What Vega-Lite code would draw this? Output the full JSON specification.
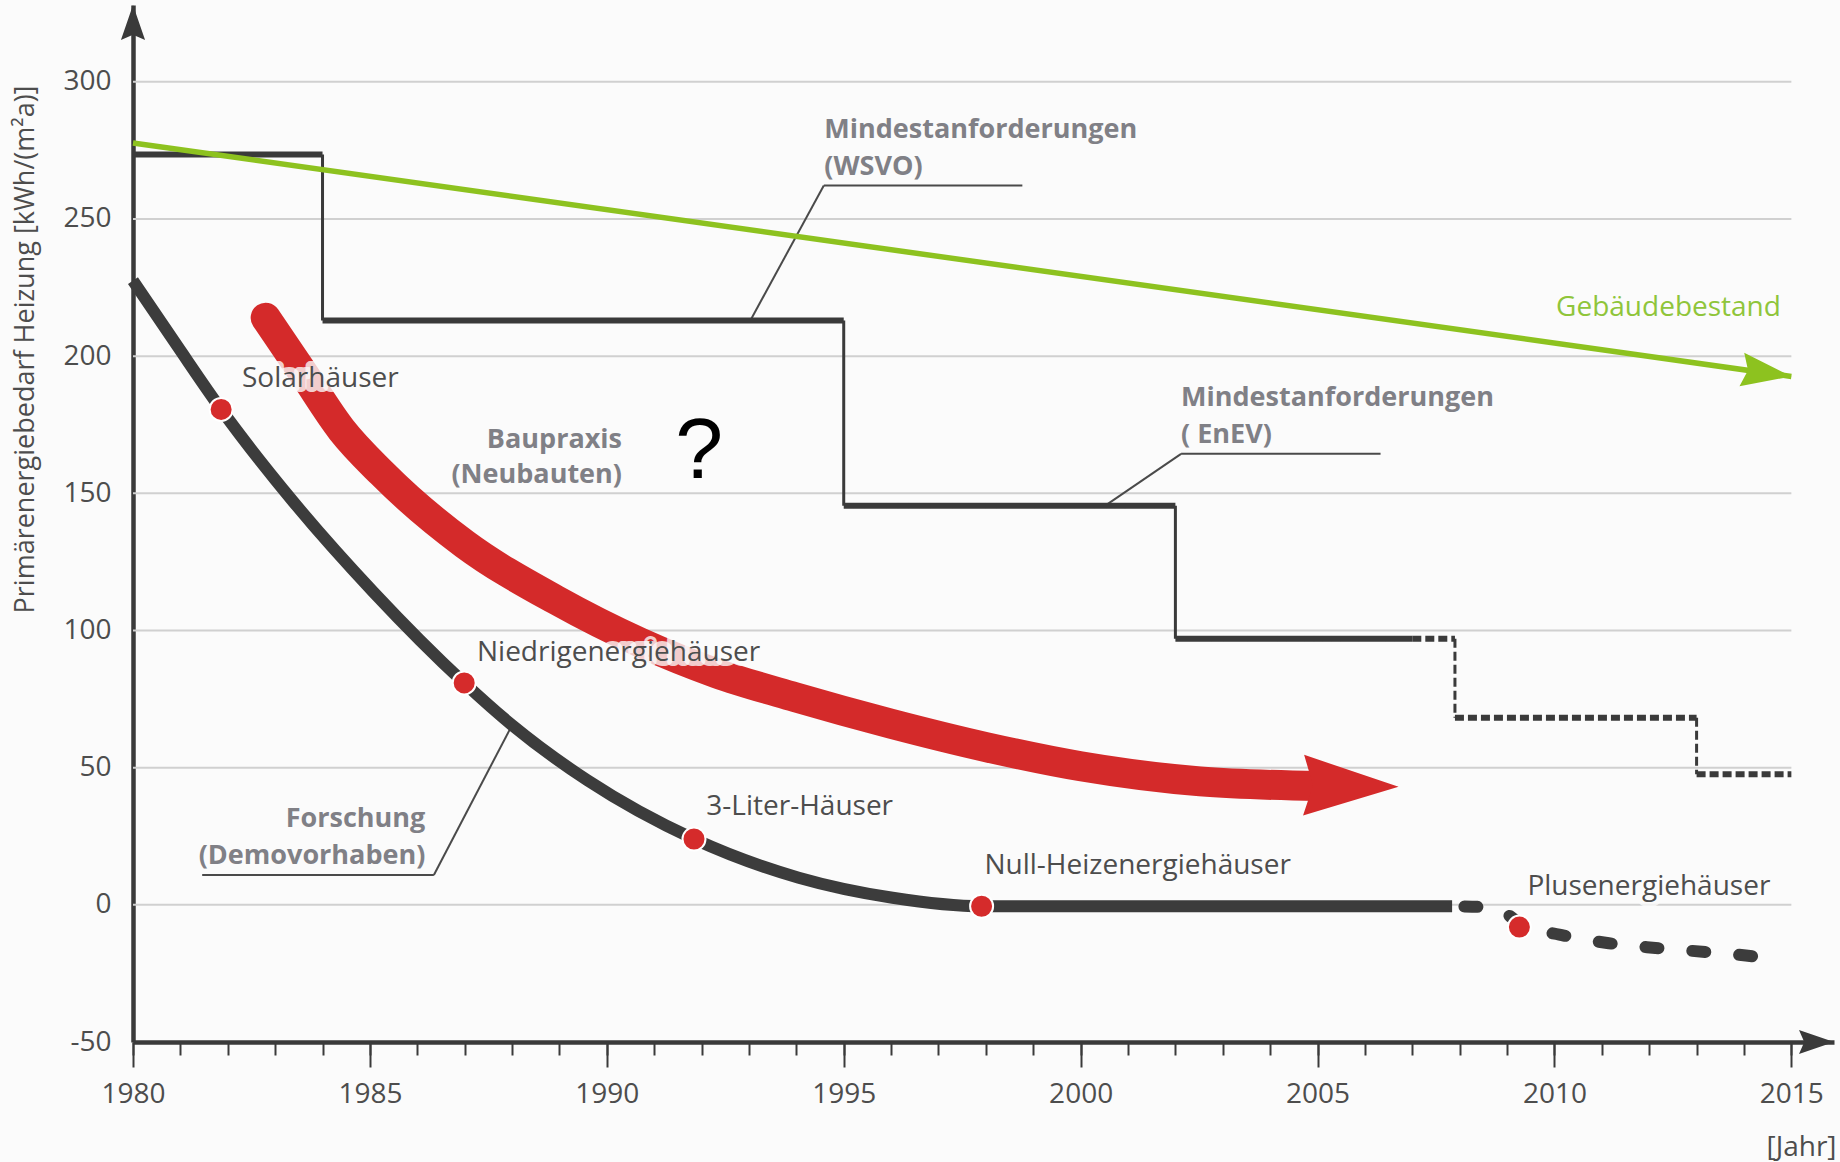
{
  "$schema": "https://vega.github.io/schema/vega-lite/v6.json",
  "width": 1701,
  "height": 1037,
  "autosize": {"type": "none"},
  "padding": {"left": 133, "top": 5, "right": 6, "bottom": 120},
  "background": "#fbfbfb",
  "config": {"view": {"stroke": null}, "font": "Open Sans"},
  "resolve": {"axis": {"x": "independent", "y": "independent"}},
  "datasets": {
    "raster": [{"wert": 0}, {"wert": 50}, {"wert": 100}, {"wert": 150}, {"wert": 200}, {"wert": 250}, {"wert": 300}],
    "mindestanforderungen": [
      {"von": 1980, "bis": 1984, "wert_von": 273.5, "wert_bis": 273.5, "richtung": "horizontal", "status": "in Kraft"},
      {"von": 1984, "bis": 1984, "wert_von": 273.5, "wert_bis": 213, "richtung": "vertikal", "status": "in Kraft"},
      {"von": 1984, "bis": 1995, "wert_von": 213, "wert_bis": 213, "richtung": "horizontal", "status": "in Kraft"},
      {"von": 1995, "bis": 1995, "wert_von": 213, "wert_bis": 145.5, "richtung": "vertikal", "status": "in Kraft"},
      {"von": 1995, "bis": 2002, "wert_von": 145.5, "wert_bis": 145.5, "richtung": "horizontal", "status": "in Kraft"},
      {"von": 2002, "bis": 2002, "wert_von": 145.5, "wert_bis": 97, "richtung": "vertikal", "status": "in Kraft"},
      {"von": 2002, "bis": 2007, "wert_von": 97, "wert_bis": 97, "richtung": "horizontal", "status": "in Kraft"},
      {"von": 2007, "bis": 2007.9, "wert_von": 97, "wert_bis": 97, "richtung": "horizontal", "status": "geplant"},
      {"von": 2007.9, "bis": 2007.9, "wert_von": 97, "wert_bis": 68.2, "richtung": "vertikal", "status": "geplant"},
      {"von": 2007.9, "bis": 2013, "wert_von": 68.2, "wert_bis": 68.2, "richtung": "horizontal", "status": "geplant"},
      {"von": 2013, "bis": 2013, "wert_von": 68.2, "wert_bis": 47.6, "richtung": "vertikal", "status": "geplant"},
      {"von": 2013, "bis": 2015, "wert_von": 47.6, "wert_bis": 47.6, "richtung": "horizontal", "status": "geplant"}
    ],
    "hinweislinien": [
      {"bezug": "WSVO", "von": 1994.58, "bis": 1998.77, "wert_von": 262.2, "wert_bis": 262.2},
      {"bezug": "WSVO", "von": 1994.58, "bis": 1993.03, "wert_von": 262.2, "wert_bis": 213},
      {"bezug": "EnEV", "von": 2002.12, "bis": 2006.33, "wert_von": 164.4, "wert_bis": 164.4},
      {"bezug": "EnEV", "von": 2002.12, "bis": 2000.52, "wert_von": 164.4, "wert_bis": 145.5},
      {"bezug": "Forschung", "von": 1981.46, "bis": 1986.35, "wert_von": 10.9, "wert_bis": 10.9},
      {"bezug": "Forschung", "von": 1986.35, "bis": 1988.0, "wert_von": 10.9, "wert_bis": 65.5}
    ],
    "gebaeudebestand": [
      {"jahr": 1980, "wert": 277.7},
      {"jahr": 2015, "wert": 192.6}
    ],
    "baupraxis": [
      {"jahr": 1982.8, "wert": 214.0},
      {"jahr": 1983.6, "wert": 193.6},
      {"jahr": 1984.4, "wert": 173.2},
      {"jahr": 1985.25, "wert": 157.4},
      {"jahr": 1987.0, "wert": 131.5},
      {"jahr": 1988.92, "wert": 111.2},
      {"jahr": 1990.71, "wert": 95.6},
      {"jahr": 1992.3, "wert": 84.5},
      {"jahr": 1993.97, "wert": 75.7},
      {"jahr": 1996.0, "wert": 66.0},
      {"jahr": 1998.0, "wert": 57.5},
      {"jahr": 2000.0, "wert": 50.5},
      {"jahr": 2002.52, "wert": 45.0},
      {"jahr": 2005.0, "wert": 43.3}
    ],
    "forschung": [
      {"jahr": 1980, "wert": 227.5, "abschnitt": "realisiert"},
      {"jahr": 1980.92, "wert": 204.1, "abschnitt": "realisiert"},
      {"jahr": 1981.86, "wert": 180.6, "abschnitt": "realisiert"},
      {"jahr": 1983.39, "wert": 146.8, "abschnitt": "realisiert"},
      {"jahr": 1985.08, "wert": 113.9, "abschnitt": "realisiert"},
      {"jahr": 1986.99, "wert": 80.9, "abschnitt": "realisiert"},
      {"jahr": 1988.0, "wert": 65.5, "abschnitt": "realisiert"},
      {"jahr": 1989.59, "wert": 45.4, "abschnitt": "realisiert"},
      {"jahr": 1991.84, "wert": 24.0, "abschnitt": "realisiert"},
      {"jahr": 1994.05, "wert": 9.9, "abschnitt": "realisiert"},
      {"jahr": 1996.03, "wert": 2.6, "abschnitt": "realisiert"},
      {"jahr": 1997.91, "wert": -0.5, "abschnitt": "realisiert"},
      {"jahr": 2007.84, "wert": -0.5, "abschnitt": "realisiert"},
      {"jahr": 2008.1, "wert": -0.6, "abschnitt": "Ausblick"},
      {"jahr": 2008.6, "wert": -0.9, "abschnitt": "Ausblick"},
      {"jahr": 2009.0, "wert": -3.5, "abschnitt": "Ausblick"},
      {"jahr": 2009.3, "wert": -7.0, "abschnitt": "Ausblick"},
      {"jahr": 2010.2, "wert": -11.2, "abschnitt": "Ausblick"},
      {"jahr": 2011.15, "wert": -14.0, "abschnitt": "Ausblick"},
      {"jahr": 2012.2, "wert": -15.8, "abschnitt": "Ausblick"},
      {"jahr": 2013.2, "wert": -17.2, "abschnitt": "Ausblick"},
      {"jahr": 2014.2, "wert": -18.8, "abschnitt": "Ausblick"},
      {"jahr": 2014.5, "wert": -19.5, "abschnitt": "Ausblick"}
    ],
    "meilensteine": [
      {"haustyp": "Solarhäuser", "jahr": 1981.86, "wert": 180.6},
      {"haustyp": "Niedrigenergiehäuser", "jahr": 1986.99, "wert": 80.9},
      {"haustyp": "3-Liter-Häuser", "jahr": 1991.84, "wert": 24.0},
      {"haustyp": "Null-Heizenergiehäuser", "jahr": 1997.91, "wert": -0.5},
      {"haustyp": "Plusenergiehäuser", "jahr": 2009.26, "wert": -8.1}
    ],
    "beschriftung": [
      {"text": "Solarhäuser", "jahr": 1982.3, "wert": 188.7, "rolle": "Haustyp"},
      {"text": "Niedrigenergiehäuser", "jahr": 1987.26, "wert": 88.7, "rolle": "Haustyp"},
      {"text": "3-Liter-Häuser", "jahr": 1992.1, "wert": 32.7, "rolle": "Haustyp"},
      {"text": "Null-Heizenergiehäuser", "jahr": 1997.97, "wert": 11.4, "rolle": "Haustyp"},
      {"text": "Plusenergiehäuser", "jahr": 2009.43, "wert": 3.6, "rolle": "Haustyp"},
      {"text": "Mindestanforderungen", "jahr": 1994.59, "wert": 279.5, "rolle": "Regelwerk"},
      {"text": "(WSVO)", "jahr": 1994.59, "wert": 266.1, "rolle": "Regelwerk"},
      {"text": "Mindestanforderungen", "jahr": 2002.12, "wert": 181.7, "rolle": "Regelwerk"},
      {"text": "( EnEV)", "jahr": 2002.12, "wert": 168.3, "rolle": "Regelwerk"},
      {"text": "Baupraxis", "jahr": 1990.32, "wert": 166.5, "rolle": "Praxis"},
      {"text": "(Neubauten)", "jahr": 1990.32, "wert": 153.7, "rolle": "Praxis"},
      {"text": "Forschung", "jahr": 1986.17, "wert": 28.2, "rolle": "Praxis"},
      {"text": "(Demovorhaben)", "jahr": 1986.17, "wert": 14.8, "rolle": "Praxis"},
      {"text": "Gebäudebestand", "jahr": 2014.78, "wert": 214.5, "rolle": "Bestand"},
      {"text": "?", "jahr": 1991.95, "wert": 155.7, "rolle": "Frage"}
    ],
    "pfeilspitzen": [
      {"pfeil": "Gebäudebestand", "jahr": 2015, "wert": 192.6},
      {"pfeil": "Baupraxis", "jahr": 2006.71, "wert": 43.0},
      {"pfeil": "y-Achse", "jahr": 1980, "wert": 328},
      {"pfeil": "x-Achse", "jahr": 2015.9, "wert": -50}
    ]
  },
  "layer": [
    {
      "data": {"name": "raster"},
      "mark": {"type": "rule", "color": "#d0d0d0", "strokeWidth": 2},
      "encoding": {
        "y": {"field": "wert", "type": "quantitative", "axis": null},
        "x": {"datum": 1980, "type": "quantitative", "axis": null},
        "x2": {"datum": 2015}
      }
    },
    {
      "data": {"name": "hinweislinien"},
      "mark": {"type": "rule", "color": "#4a4a4a", "strokeWidth": 2},
      "encoding": {
        "x": {"field": "von", "type": "quantitative", "axis": null},
        "x2": {"field": "bis"},
        "y": {"field": "wert_von", "type": "quantitative", "axis": null},
        "y2": {"field": "wert_bis"}
      }
    },
    {
      "data": {"name": "mindestanforderungen"},
      "mark": {"type": "rule", "color": "#3a3a3a", "strokeCap": "butt"},
      "encoding": {
        "x": {
          "field": "von", "type": "quantitative",
          "scale": {"domain": [1980, 2015.9], "nice": false, "zero": false},
          "axis": {
            "orient": "bottom",
            "title": null,
            "values": [1980, 1981, 1982, 1983, 1984, 1985, 1986, 1987, 1988, 1989, 1990, 1991, 1992, 1993, 1994, 1995, 1996, 1997, 1998, 1999, 2000, 2001, 2002, 2003, 2004, 2005, 2006, 2007, 2008, 2009, 2010, 2011, 2012, 2013, 2014, 2015],
            "labels": false,
            "tickSize": 13,
            "tickWidth": 2,
            "tickColor": "#3a3a3a",
            "domainColor": "#3a3a3a",
            "domainWidth": 4.5,
            "grid": false
          }
        },
        "x2": {"field": "bis"},
        "y": {
          "field": "wert_von", "type": "quantitative",
          "scale": {"domain": [-50, 328], "nice": false, "zero": false},
          "axis": {
            "orient": "left",
            "title": "Primärenergiebedarf Heizung [kWh/(m²a)]",
            "values": [-50, 0, 50, 100, 150, 200, 250, 300],
            "labelExpr": "replace(datum.label, '\u2212', '-')",
            "ticks": false,
            "tickSize": 0,
            "labelPadding": 22,
            "labelFont": "Open Sans",
            "labelFontSize": 28,
            "labelColor": "#4d4d4d",
            "domainColor": "#3a3a3a",
            "domainWidth": 4.5,
            "grid": false,
            "titleFont": "Open Sans",
            "titleFontSize": 27,
            "titleFontWeight": "normal",
            "titleColor": "#4d4d4d",
            "titleAngle": 270,
            "titleX": -100,
            "titleY": 344,
            "titleAlign": "center",
            "titleBaseline": "alphabetic"
          }
        },
        "y2": {"field": "wert_bis"},
        "strokeWidth": {"field": "richtung", "type": "ordinal", "scale": {"domain": ["horizontal", "vertikal"], "range": [6, 3]}, "legend": null},
        "strokeDash": {"field": "status", "type": "nominal", "scale": {"domain": ["in Kraft", "geplant"], "range": [[1, 0], [9, 4]]}, "legend": null}
      }
    },
    {
      "data": {"name": "gebaeudebestand"},
      "mark": {"type": "line", "color": "#8dc21f", "strokeWidth": 5.5, "strokeCap": "butt"},
      "encoding": {
        "x": {"field": "jahr", "type": "quantitative", "axis": null},
        "y": {"field": "wert", "type": "quantitative", "axis": null}
      }
    },
    {
      "data": {"name": "pfeilspitzen"},
      "transform": [{"filter": "datum.pfeil === 'Gebäudebestand'"}],
      "mark": {"type": "point", "shape": "M0,0 L-2,-0.68 L-1.75,0 L-2,0.68 Z", "size": 2500, "angle": 8, "filled": true, "color": "#8dc21f", "opacity": 1},
      "encoding": {
        "x": {"field": "jahr", "type": "quantitative", "axis": null},
        "y": {"field": "wert", "type": "quantitative", "axis": null}
      }
    },
    {
      "data": {"name": "baupraxis"},
      "mark": {"type": "line", "color": "#d42a2a", "strokeWidth": 30, "interpolate": "monotone", "strokeCap": "round"},
      "encoding": {
        "x": {"field": "jahr", "type": "quantitative", "axis": null},
        "y": {"field": "wert", "type": "quantitative", "axis": null}
      }
    },
    {
      "data": {"name": "pfeilspitzen"},
      "transform": [{"filter": "datum.pfeil === 'Baupraxis'"}],
      "mark": {"type": "point", "shape": "M0,0 L-2,-0.64 L-1.8,0 L-2,0.64 Z", "size": 9025, "angle": 1, "filled": true, "color": "#d42a2a", "opacity": 1},
      "encoding": {
        "x": {"field": "jahr", "type": "quantitative", "axis": null},
        "y": {"field": "wert", "type": "quantitative", "axis": null}
      }
    },
    {
      "data": {"name": "forschung"},
      "transform": [{"filter": "datum.abschnitt === 'realisiert'"}],
      "mark": {"type": "line", "color": "#3c3c3c", "strokeWidth": 12, "interpolate": "monotone", "strokeCap": "butt"},
      "encoding": {
        "x": {"field": "jahr", "type": "quantitative", "axis": null},
        "y": {"field": "wert", "type": "quantitative", "axis": null}
      }
    },
    {
      "data": {"name": "forschung"},
      "transform": [{"filter": "datum.abschnitt === 'Ausblick'"}],
      "mark": {"type": "line", "color": "#3c3c3c", "strokeWidth": 12, "interpolate": "monotone", "strokeCap": "round", "strokeDash": [13, 34]},
      "encoding": {
        "x": {"field": "jahr", "type": "quantitative", "axis": null},
        "y": {"field": "wert", "type": "quantitative", "axis": null}
      }
    },
    {
      "data": {"name": "meilensteine"},
      "mark": {"type": "circle", "size": 529, "color": "#d52b2b", "opacity": 1, "stroke": "#ffffff", "strokeWidth": 2},
      "encoding": {
        "x": {
          "field": "jahr", "type": "quantitative",
          "axis": {
            "orient": "bottom",
            "values": [1980, 1985, 1990, 1995, 2000, 2005, 2010, 2015],
            "format": "d",
            "domain": false,
            "grid": false,
            "tickSize": 25,
            "tickWidth": 2,
            "tickColor": "#3a3a3a",
            "labelFlush": false,
            "labelOverlap": false,
            "labelFont": "Open Sans",
            "labelFontSize": 28,
            "labelColor": "#4d4d4d",
            "labelPadding": 13,
            "title": "[Jahr]",
            "titleFont": "Open Sans",
            "titleFontSize": 28,
            "titleFontWeight": "normal",
            "titleColor": "#4d4d4d",
            "titleX": 1703,
            "titleY": 105,
            "titleAlign": "right",
            "titleBaseline": "middle",
            "titleAnchor": "end"
          }
        },
        "y": {"field": "wert", "type": "quantitative", "axis": null}
      }
    },
    {
      "data": {"name": "beschriftung"},
      "transform": [{"filter": "datum.rolle === 'Haustyp'"}],
      "mark": {"type": "text", "align": "left", "baseline": "alphabetic", "font": "Open Sans", "fontSize": 28, "fill": "#fbfbfb", "stroke": "#fbfbfb", "strokeWidth": 10, "strokeOpacity": 0.8, "strokeJoin": "round"},
      "encoding": {
        "x": {"field": "jahr", "type": "quantitative", "axis": null},
        "y": {"field": "wert", "type": "quantitative", "axis": null},
        "text": {"field": "text"}
      }
    },
    {
      "data": {"name": "beschriftung"},
      "transform": [{"filter": "datum.rolle === 'Haustyp'"}],
      "mark": {"type": "text", "align": "left", "baseline": "alphabetic", "font": "Open Sans", "fontSize": 28, "fill": "#4d4d4d"},
      "encoding": {
        "x": {"field": "jahr", "type": "quantitative", "axis": null},
        "y": {"field": "wert", "type": "quantitative", "axis": null},
        "text": {"field": "text"}
      }
    },
    {
      "data": {"name": "beschriftung"},
      "transform": [{"filter": "datum.rolle === 'Regelwerk'"}],
      "mark": {"type": "text", "align": "left", "baseline": "alphabetic", "font": "Open Sans", "fontSize": 27, "fontWeight": "bold", "fill": "#808086"},
      "encoding": {
        "x": {"field": "jahr", "type": "quantitative", "axis": null},
        "y": {"field": "wert", "type": "quantitative", "axis": null},
        "text": {"field": "text"}
      }
    },
    {
      "data": {"name": "beschriftung"},
      "transform": [{"filter": "datum.rolle === 'Praxis'"}],
      "mark": {"type": "text", "align": "right", "baseline": "alphabetic", "font": "Open Sans", "fontSize": 27, "fontWeight": "bold", "fill": "#808086"},
      "encoding": {
        "x": {"field": "jahr", "type": "quantitative", "axis": null},
        "y": {"field": "wert", "type": "quantitative", "axis": null},
        "text": {"field": "text"}
      }
    },
    {
      "data": {"name": "beschriftung"},
      "transform": [{"filter": "datum.rolle === 'Bestand'"}],
      "mark": {"type": "text", "align": "right", "baseline": "alphabetic", "font": "Open Sans", "fontSize": 28, "fill": "#8fc53a"},
      "encoding": {
        "x": {"field": "jahr", "type": "quantitative", "axis": null},
        "y": {"field": "wert", "type": "quantitative", "axis": null},
        "text": {"field": "text"}
      }
    },
    {
      "data": {"name": "beschriftung"},
      "transform": [{"filter": "datum.rolle === 'Frage'"}],
      "mark": {"type": "text", "align": "center", "baseline": "alphabetic", "font": "Liberation Sans", "fontSize": 86, "fill": "#000000"},
      "encoding": {
        "x": {"field": "jahr", "type": "quantitative", "axis": null},
        "y": {"field": "wert", "type": "quantitative", "axis": null},
        "text": {"field": "text"}
      }
    },
    {
      "data": {"name": "pfeilspitzen"},
      "transform": [{"filter": "datum.pfeil === 'y-Achse'"}],
      "mark": {"type": "point", "shape": "M0,0 L0.69,2 L0,1.7 L-0.69,2 Z", "size": 1225, "filled": true, "color": "#3a3a3a", "opacity": 1},
      "encoding": {
        "x": {"field": "jahr", "type": "quantitative", "axis": null},
        "y": {"field": "wert", "type": "quantitative", "axis": null}
      }
    },
    {
      "data": {"name": "pfeilspitzen"},
      "transform": [{"filter": "datum.pfeil === 'x-Achse'"}],
      "mark": {"type": "point", "shape": "M0,0 L-2,-0.69 L-1.7,0 L-2,0.69 Z", "size": 1225, "filled": true, "color": "#3a3a3a", "opacity": 1},
      "encoding": {
        "x": {"field": "jahr", "type": "quantitative", "axis": null},
        "y": {"field": "wert", "type": "quantitative", "axis": null}
      }
    }
  ]
}
